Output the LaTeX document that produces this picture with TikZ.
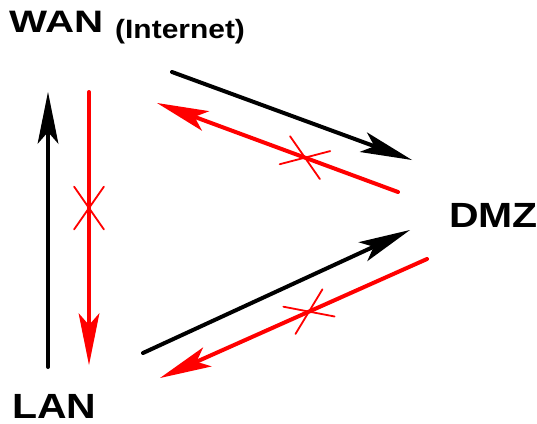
\documentclass[tikz,border=0pt]{standalone}
\usepackage{fontspec}
\setmainfont{Liberation Sans}
\usetikzlibrary{arrows.meta,shapes.misc}
\begin{document}
\begin{tikzpicture}[x=1pt,y=-1pt,
  flow/.style={line width=4pt, line cap=round,
    -{Stealth[length=52pt,width=21pt,inset=12pt,line width=0pt]}},
  ok/.style={flow, draw=black},
  blocked/.style={flow, draw=red},
  xmark/.style={cross out, draw=red, line width=1.8pt, minimum width=41pt,
    minimum height=28pt, inner sep=0pt, sloped},
  lbl/.style={inner sep=0pt, anchor=base west, text depth=0pt, font=\bfseries}]
\useasboundingbox (0,0) rectangle (537,423);
% labels
\node[lbl] (wan) at (9,32) {\fontsize{31}{31}\selectfont\scalebox{1.3}[1]{WAN}};
\node[lbl] (inet) at (115,38) {\fontsize{26.5}{26.5}\selectfont\scalebox{1.13}[1]{(Internet)}};
\node[lbl] (lan) at (12,418) {\fontsize{35}{35}\selectfont\scalebox{1.17}[1]{LAN}};
\node[lbl] (dmz) at (449,227) {\fontsize{35}{35}\selectfont\scalebox{1.17}[1]{DMZ}};
% end points
\coordinate (lanUpS) at (48,367);
\coordinate (lanUpE) at (48,92);
\coordinate (wanDnS) at (89,92);
\coordinate (wanDnE) at (89,365);
\coordinate (wdS) at (172,72);
\coordinate (wdE) at (412,160);
\coordinate (dwS) at (398,192);
\coordinate (dwE) at (157,103);
\coordinate (ldS) at (143,353);
\coordinate (ldE) at (410,230);
\coordinate (dlS) at (427,259);
\coordinate (dlE) at (160,378);
% connectors
\draw[ok] (lanUpS) -- (lanUpE);
\draw[blocked] (wanDnS) -- node[xmark, pos=0.425] (x1) {} (wanDnE);
\draw[ok] (wdS) -- (wdE);
\draw[blocked] (dwS) -- node[xmark, pos=0.386] (x2) {} (dwE);
\draw[ok] (ldS) -- (ldE);
\draw[blocked] (dlS) -- node[xmark, pos=0.442] (x3) {} (dlE);
\end{tikzpicture}
\end{document}
